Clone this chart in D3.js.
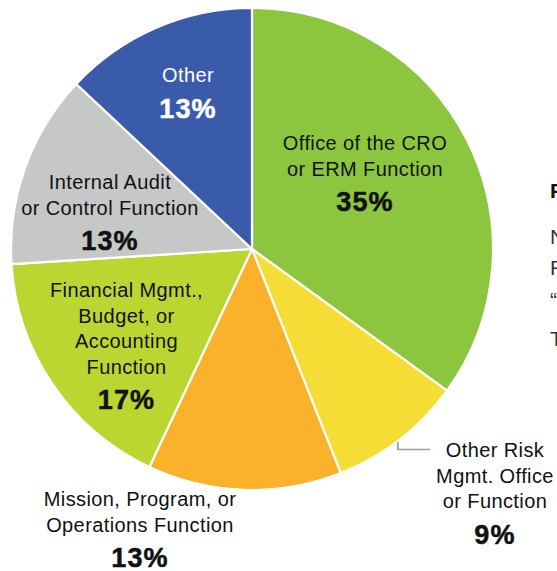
<!DOCTYPE html>
<html>
<head>
<meta charset="utf-8">
<script src="https://cdn.jsdelivr.net/npm/d3@7"></script>
<style>
  html, body { margin: 0; padding: 0; background: #fff; overflow: hidden; }
  svg { display: block; }
  text { font-family: "Liberation Sans", Arial, Helvetica, sans-serif; }
</style>
</head>
<body>
<svg id="chart" width="557" height="571"></svg>
<script>
// ---- data ----
const categories = [
  "Office of the CRO or ERM Function",
  "Other Risk Mgmt. Office or Function",
  "Mission, Program, or Operations Function",
  "Financial Mgmt., Budget, or Accounting Function",
  "Internal Audit or Control Function",
  "Other"
];
const values = [35, 9, 13, 17, 13, 13];
const labelLines = [
  ["Office of the CRO", "or ERM Function"],
  ["Other Risk", "Mgmt. Office", "or Function"],
  ["Mission, Program, or", "Operations Function"],
  ["Financial Mgmt.,", "Budget, or", "Accounting", "Function"],
  ["Internal Audit", "or Control Function"],
  ["Other"]
];
const colors = ["#8CC63F", "#F5DD36", "#FBB12A", "#BCD631", "#C6C7C7", "#3A5BA9"];
const textColors = ["#111", "#111", "#111", "#111", "#111", "#fff"];

// ---- layout ----
const W = 557, H = 571;
const cx = 252, cy = 249, R = 241;
// label anchor (center x, first baseline y) for each slice
const labelAnchor = [
  [365, 150],
  [495, 457],
  [140, 506],
  [126.5, 297],
  [110, 189],
  [188, 82]
];
const lineGap = 25.5, pctGap = 35.5;

const svg = d3.select("#chart");
const g = svg.append("g").attr("transform", `translate(${cx},${cy})`);

const pie = d3.pie().value(d => d).sort(null);
const arcs = pie(values);
const arc = d3.arc().innerRadius(0).outerRadius(R);

g.selectAll("path.slice")
  .data(arcs)
  .join("path")
  .attr("class", "slice")
  .attr("d", arc)
  .attr("fill", (d, i) => colors[i])
  .attr("stroke", "#fff")
  .attr("stroke-width", 2.2)
  .attr("stroke-linejoin", "round");

// leader line for the small "Other Risk" slice
{
  const a = arcs[1];
  const mid = (a.startAngle + a.endAngle) / 2;
  const r0 = R + 2;
  const x0 = cx + r0 * Math.sin(mid) - 3;
  const y0 = cy - r0 * Math.cos(mid) + 1;
  svg.append("polyline")
    .attr("points", `${x0},${y0} ${x0},449.5 430,449.5`)
    .attr("fill", "none")
    .attr("stroke", "#9a9a9a")
    .attr("stroke-width", 1.6);
}

// labels
const lab = svg.selectAll("g.label")
  .data(arcs)
  .join("g")
  .attr("class", "label");

lab.each(function(d, i) {
  const [x, y] = labelAnchor[i];
  const sel = d3.select(this);
  labelLines[i].forEach((t, k) => {
    sel.append("text")
      .attr("x", x)
      .attr("y", y + k * lineGap)
      .attr("text-anchor", "middle")
      .attr("font-size", 20)
      .attr("letter-spacing", 0.4)
      .attr("fill", textColors[i])
      .text(t);
  });
  const n = labelLines[i].length;
  sel.append("text")
    .attr("x", x)
    .attr("y", y + (n - 1) * lineGap + pctGap)
    .attr("text-anchor", "middle")
    .attr("font-size", 27)
    .attr("font-weight", "bold")
    .attr("letter-spacing", 1.2)
    .attr("fill", textColors[i])
    .attr("stroke", textColors[i])
    .attr("stroke-width", 0.5)
    .text(d3.format(".0f")(d.data) + "%");
});

// partially visible side text (cut by the frame edge, as in the reference)
const sideLetters = ["N", "R", "\u201C", "T"];
const sideBaselines = [244, 275, 307, 346];
svg.append("text")
  .attr("x", 550).attr("y", 198)
  .attr("font-size", 21).attr("font-weight", "bold").attr("fill", "#111")
  .text("F");
sideLetters.forEach((t, k) => {
  svg.append("text")
    .attr("x", 550).attr("y", sideBaselines[k])
    .attr("font-size", 21).attr("fill", "#333")
    .text(t);
});
</script>
</body>
</html>
